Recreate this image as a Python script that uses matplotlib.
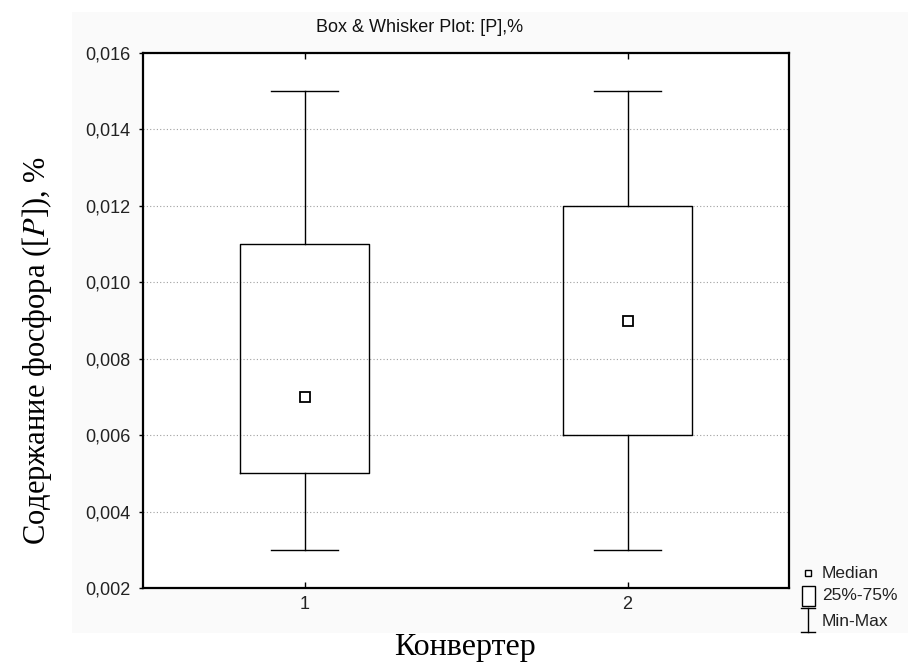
import matplotlib
matplotlib.use("Agg")
import matplotlib.pyplot as plt
from matplotlib.patches import Rectangle
from matplotlib.lines import Line2D

# values
groups = [1, 2]
group_labels = ["1", "2"]
mins = [0.003, 0.003]
q1s = [0.005, 0.006]
medians = [0.007, 0.009]
q3s = [0.011, 0.012]
maxs = [0.015, 0.015]
yticks = [0.002, 0.004, 0.006, 0.008, 0.010, 0.012, 0.014, 0.016]
ytick_labels = ["0,002", "0,004", "0,006", "0,008", "0,010", "0,012", "0,014", "0,016"]

plt.rcParams["mathtext.fontset"] = "stix"
W, H = 908, 664
fig = plt.figure(figsize=(W / 100, H / 100), dpi=100)
fig.patch.set_facecolor("white")

# background layer in pixel coordinates (grey panel + legend)
leg = fig.add_axes([0, 0, 1, 1], zorder=-1)
leg.set_xlim(0, W)
leg.set_ylim(H, 0)
leg.axis("off")
leg.add_patch(Rectangle((72, 12), W - 72, 633 - 12, facecolor="#fafafa",
                        edgecolor="none", zorder=0))

ax = fig.add_axes([143 / W, 1 - 588 / H, (789 - 143) / W, (588 - 53) / H], zorder=1)
ax.set_facecolor("white")

stats = []
for lo, a, m, b, hi in zip(mins, q1s, medians, q3s, maxs):
    stats.append(dict(whislo=lo, q1=a, med=m, q3=b, whishi=hi, fliers=[]))

line = dict(color="black", linewidth=1.0)
ax.bxp(stats, positions=groups, widths=0.40, capwidths=0.21,
       boxprops=line, whiskerprops=line, capprops=line,
       medianprops=dict(linestyle="none"), showfliers=False, manage_ticks=False)
ax.plot(groups, medians, linestyle="none", marker="s", markersize=6.5,
        markerfacecolor="white", markeredgecolor="black", markeredgewidth=1.3)

ax.set_xlim(0.5, 2.5)
ax.set_ylim(0.002, 0.016)
ax.set_xticks(groups)
ax.set_xticklabels(group_labels)
ax.set_yticks(yticks)
ax.set_yticklabels(ytick_labels)
ax.yaxis.grid(True, linestyle=(0, (1, 2)), color="#a0a0a0", linewidth=0.8)
ax.set_axisbelow(True)
for s in ax.spines.values():
    s.set_linewidth(1.6)
ax.tick_params(axis="x", direction="in", top=True, length=4, width=1,
               labelsize=13, pad=6, labelfontfamily="Liberation Sans", labelcolor="#222222")
ax.tick_params(axis="y", direction="out", length=3, width=1,
               labelsize=13, pad=6, labelfontfamily="Liberation Sans", labelcolor="#222222")

fig.text(420 / W, 1 - 27 / H, "Box & Whisker Plot: [P],%", ha="center", va="center",
         fontsize=13, family="Liberation Sans", color="#111111")
fig.text(37 / W, 1 - 350 / H, "Содержание фосфора ([$P$]), %", rotation=90,
         ha="center", va="center", fontsize=22, family="Liberation Serif")
fig.text(465 / W, 1 - 648 / H, "Конвертер", ha="center", va="center",
         fontsize=23, family="Liberation Serif")

# legend
leg.plot([808], [573], marker="s", markersize=5, markerfacecolor="white",
         markeredgecolor="black", markeredgewidth=1)
leg.add_patch(Rectangle((802, 586), 13, 20, facecolor="white", edgecolor="black", linewidth=1))
leg.add_line(Line2D([808, 808], [608, 632], color="black", linewidth=1))
leg.add_line(Line2D([801, 815], [608, 608], color="black", linewidth=1))
leg.add_line(Line2D([801, 815], [632, 632], color="black", linewidth=1))
for yy, txt in zip([573, 596, 621], ["Median", "25%-75%", "Min-Max"]):
    leg.text(822, yy, txt, ha="left", va="center", fontsize=12.5,
             family="Liberation Sans", color="#222222")

fig.savefig("out.png", dpi=100)
